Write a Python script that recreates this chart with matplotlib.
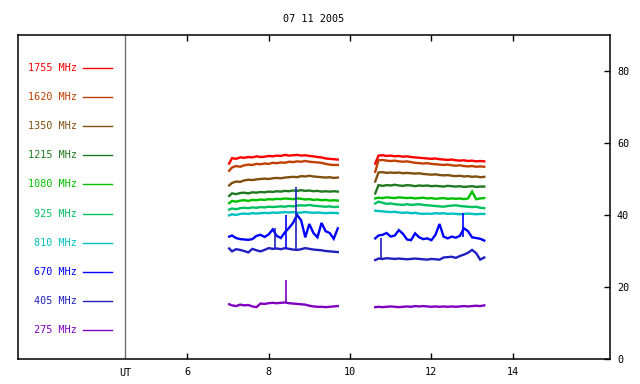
import matplotlib
matplotlib.use("Agg")
import matplotlib.pyplot as plt
import matplotlib.transforms as mtransforms

title = "07 11 2005"
freqs = ["1755", "1620", "1350", "1215", "1080", "925", "810", "670", "405", "275"]
colors = ["#ff0000", "#c04000", "#805010", "#207820", "#00c000",
          "#00c060", "#00c0c0", "#0000ff", "#2020c0", "#8000c0"]

t1 = [7.03, 7.1, 7.2, 7.3, 7.4, 7.5, 7.6, 7.7, 7.8, 7.9, 8.0, 8.1, 8.2, 8.3,
      8.4, 8.5, 8.6, 8.7, 8.8, 8.9, 9.0, 9.1, 9.2, 9.3, 9.4, 9.5, 9.6, 9.7]
t2 = [10.62, 10.7, 10.8, 10.9, 11.0, 11.1, 11.2, 11.3, 11.4, 11.5, 11.6, 11.7, 11.8, 11.9,
      12.0, 12.1, 12.2, 12.3, 12.4, 12.5, 12.6, 12.7, 12.8, 12.9, 13.0, 13.1, 13.2, 13.3]

s1755_a = [54.3, 55.8, 55.6, 56.0, 55.9, 56.1, 56.0, 56.3, 56.1, 56.2, 56.4, 56.3, 56.5, 56.4,
           56.7, 56.5, 56.6, 56.7, 56.5, 56.6, 56.4, 56.3, 56.1, 56.0, 55.7, 55.6, 55.5, 55.4]
s1755_b = [54.3, 56.5, 56.6, 56.4, 56.5, 56.3, 56.4, 56.2, 56.3, 56.1, 56.0, 55.9, 55.8, 55.7,
           55.6, 55.7, 55.5, 55.4, 55.3, 55.4, 55.2, 55.1, 55.2, 55.0, 55.1, 54.9, 55.0, 54.9]
s1620_a = [52.3, 53.2, 53.6, 53.4, 53.8, 54.0, 53.9, 54.2, 54.1, 54.3, 54.2, 54.5, 54.4, 54.6,
           54.5, 54.8, 54.7, 54.9, 54.8, 55.0, 54.8, 54.7, 54.6, 54.5, 54.2, 54.0, 53.9, 53.9]
s1620_b = [52.0, 55.2, 55.3, 55.1, 55.0, 55.1, 54.9, 54.8, 54.9, 54.7, 54.5, 54.4, 54.3, 54.4,
           54.2, 54.1, 54.0, 53.9, 54.0, 53.8, 53.7, 53.8, 53.6, 53.5, 53.6, 53.4, 53.5, 53.4]
s1350_a = [48.2, 48.9, 49.3, 49.2, 49.6, 49.8, 49.7, 49.9, 50.0, 50.1, 50.0, 50.2, 50.3, 50.2,
           50.4, 50.5, 50.6, 50.5, 50.8, 50.7, 50.9, 50.7, 50.6, 50.5, 50.4, 50.5, 50.3, 50.4]
s1350_b = [49.3, 51.8, 51.9, 51.7, 51.8, 51.7, 51.8, 51.6, 51.7, 51.6, 51.5, 51.6, 51.4, 51.3,
           51.2, 51.3, 51.1, 51.0, 51.1, 50.9, 50.8, 50.9, 50.7, 50.8, 50.6, 50.7, 50.5, 50.6]
s1215_a = [45.3, 46.0, 45.8, 46.1, 46.2, 46.0, 46.3, 46.2, 46.4, 46.3, 46.5, 46.4, 46.6, 46.5,
           46.7, 46.6, 46.8, 46.7, 46.9, 46.7, 46.8, 46.6, 46.7, 46.5, 46.6, 46.5, 46.6, 46.5]
s1215_b = [46.0, 48.3, 48.1, 48.3, 48.2, 48.4, 48.2, 48.1, 48.3, 48.2, 48.0, 48.2, 48.1, 48.2,
           48.0, 48.1, 48.0, 47.9, 48.1, 48.0, 47.9, 48.0, 47.8, 47.9, 48.0, 47.8, 47.9, 47.9]
s1080_a = [43.3, 43.9, 43.7, 44.0, 44.1, 43.9, 44.2, 44.1, 44.3, 44.2, 44.4, 44.3, 44.5, 44.4,
           44.6, 44.5, 44.4, 44.6, 44.5, 44.3, 44.4, 44.2, 44.3, 44.1, 44.2, 44.0, 44.1, 44.0]
s1080_b = [44.6, 44.8, 44.7, 44.9, 44.8, 44.7, 44.9, 44.8, 44.7, 44.8, 44.6, 44.7, 44.8, 44.6,
           44.7, 44.5, 44.6, 44.7, 44.5, 44.6, 44.5, 44.6, 44.4, 44.6, 46.5, 44.4, 44.6, 44.7]
s925_a = [41.5, 41.8, 41.6, 41.9, 42.0, 41.9, 42.1, 42.0, 42.2, 42.1, 42.3, 42.2, 42.3, 42.4,
          42.3, 42.5, 42.4, 42.6, 42.7, 42.6, 42.8, 42.6, 42.5, 42.4, 42.3, 42.4, 42.2, 42.3]
s925_b = [43.2, 43.7, 43.4, 43.1, 43.2, 43.0, 42.9, 42.8, 43.0, 42.8, 42.9, 43.0, 42.8, 42.7,
          42.6, 42.5, 42.4, 42.3, 42.5, 42.6, 42.7, 42.5, 42.4, 42.3, 42.2, 42.3, 42.0, 41.9]
s810_a = [39.9, 40.2, 40.0, 40.3, 40.4, 40.3, 40.5, 40.4, 40.5, 40.6, 40.5, 40.7, 40.6, 40.7,
          40.8, 40.7, 40.8, 40.6, 40.7, 40.8, 40.7, 40.6, 40.7, 40.6, 40.5, 40.6, 40.6, 40.5]
s810_b = [41.2, 41.1, 41.0, 40.9, 40.8, 40.9, 40.7, 40.6, 40.7, 40.5, 40.6, 40.4, 40.3, 40.4,
          40.3, 40.5, 40.4, 40.5, 40.3, 40.4, 40.3, 40.2, 40.3, 40.4, 40.3, 40.2, 40.3, 40.3]
s670_a = [34.0, 34.3, 33.6, 33.3, 33.2, 33.1, 33.3, 34.2, 34.5, 33.9, 34.6, 36.0, 34.2, 33.6,
          35.2, 36.4, 37.8, 40.0, 38.5, 33.8, 37.5, 35.0, 33.8, 37.8, 35.5, 35.0, 33.4, 36.3]
s670_b = [33.5, 34.3, 34.5, 35.0, 34.0, 34.3, 35.8, 34.8, 33.2, 33.0, 34.9, 33.8, 33.3, 33.5,
          33.0, 34.5, 37.5, 34.0, 33.5, 34.0, 33.7, 34.2, 36.3, 35.5, 33.8, 33.6, 33.4, 32.9]
s405_a = [30.7, 29.9, 30.5, 30.3, 30.0, 29.6, 30.6, 30.2, 29.9, 30.3, 30.8, 30.6, 30.7, 30.5,
          30.8, 30.6, 30.4, 30.3, 30.5, 30.8, 30.6, 30.4, 30.3, 30.2, 30.0, 29.9, 29.8, 29.7]
s405_b = [27.5, 27.9, 27.8, 28.0, 27.9, 27.8, 27.9, 27.8, 27.7, 27.8, 27.9, 27.8, 27.7, 27.6,
          27.8, 27.7, 27.6, 28.2, 28.3, 28.4, 28.1, 28.6, 29.0, 29.5, 30.3, 29.4, 27.6, 28.2]
s275_a = [15.2, 14.9, 14.7, 15.1, 14.9, 15.0, 14.6, 14.4, 15.4, 15.3, 15.5, 15.6, 15.5, 15.6,
          15.7, 15.5, 15.4, 15.3, 15.2, 15.1, 14.8, 14.6, 14.5, 14.5, 14.4, 14.5, 14.6, 14.7]
s275_b = [14.4, 14.5, 14.4, 14.5, 14.6, 14.5, 14.4, 14.5, 14.6, 14.5, 14.7, 14.6, 14.7, 14.6,
          14.5, 14.6, 14.5, 14.6, 14.5, 14.6, 14.5, 14.6, 14.7, 14.6, 14.7, 14.8, 14.7, 14.9]

# short spikes: time, low, high, channel index
spike_t = [8.15, 8.43, 8.68, 8.43, 10.77, 12.77]
spike_lo = [30.5, 30.5, 30.4, 15.5, 27.9, 34.0]
spike_hi = [36.4, 40.0, 47.8, 21.9, 33.5, 40.5]
spike_ch = [8, 7, 8, 9, 8, 7]

series_a = [s1755_a, s1620_a, s1350_a, s1215_a, s1080_a, s925_a, s810_a, s670_a, s405_a, s275_a]
series_b = [s1755_b, s1620_b, s1350_b, s1215_b, s1080_b, s925_b, s810_b, s670_b, s405_b, s275_b]

xticks = [6, 8, 10, 12, 14]
yticks = [0, 20, 40, 60, 80]

plt.rcParams['font.family'] = ['DejaVu Sans Mono']
fs = 7.3

fig = plt.figure(figsize=(6.4, 3.84), dpi=100)
ax = fig.add_axes([18/640, 25/384, 592/640, 324/384])
ax.set_xlim(1.84, 16.39)
ax.set_ylim(0, 90)

for i in range(len(freqs)):
    ax.plot(t1, series_a[i], color=colors[i], lw=1.7, solid_joinstyle='miter')
    ax.plot(t2, series_b[i], color=colors[i], lw=1.7, solid_joinstyle='miter')
for t, lo, hi, ch in zip(spike_t, spike_lo, spike_hi, spike_ch):
    ax.vlines(t, lo, hi, color=colors[ch], lw=1.2)

# UT separator
ax.axvline(4.47, color="#707070", lw=1)
ax.text(4.47, -2.5, "UT", ha="center", va="top", fontsize=fs)

# legend
blend = mtransforms.blended_transform_factory(ax.transAxes, ax.transData)
for i, (f, c) in enumerate(zip(freqs, colors)):
    y = 80.8 - i * 8.08
    ax.text(0.0997, y, f + " MHz", color=c, ha="right", va="center",
            fontsize=fs, transform=blend)
    ax.plot([0.110, 0.159], [y, y], color=c, lw=1, transform=blend)

ax.set_xticks(xticks)
ax.set_xticklabels([str(v) for v in xticks], fontsize=fs)
ax.set_yticks(yticks)
ax.set_yticklabels([str(v) for v in yticks], fontsize=fs)
ax.yaxis.tick_right()
ax.tick_params(axis='x', direction='in', top=True, bottom=True, length=4, pad=6, width=1)
ax.tick_params(axis='y', direction='in', right=True, left=False, length=4, pad=5, width=1)
for s in ax.spines.values():
    s.set_linewidth(1.1)
ax.set_title(title, fontsize=fs, pad=9)

fig.savefig("out.png", dpi=100)
